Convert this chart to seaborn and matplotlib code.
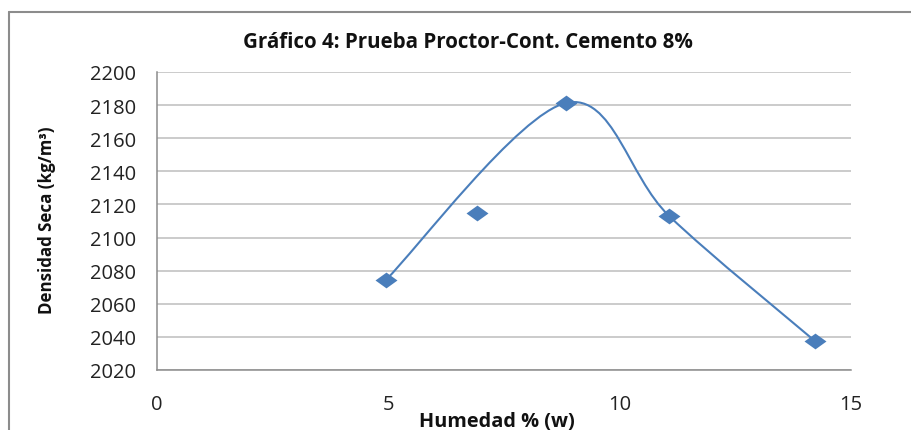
import numpy as np
import pandas as pd
import matplotlib
matplotlib.use("Agg")
import matplotlib.pyplot as plt
from matplotlib.path import Path
from matplotlib.patches import PathPatch
from matplotlib.lines import Line2D
import seaborn as sns

# ------------------------- Data -------------------------
humedad = [4.95, 6.92, 8.84, 11.07, 14.22]
densidad = [2074.5, 2114.8, 2181.3, 2113.0, 2037.5]

# smoothed line series (Excel-style smooth line)
curve_x = [4.95, 8.84, 11.07, 14.22]
curve_y = [2074.5, 2181.3, 2113.0, 2037.5]

x_ticks = [0, 5, 10, 15]
y_ticks = [2020, 2040, 2060, 2080, 2100, 2120, 2140, 2160, 2180, 2200]

title = "Gráfico 4: Prueba Proctor-Cont. Cemento 8%"
x_label = "Humedad % (w)"
y_label = "Densidad Seca (kg/m³)"

blue = "#4a7ebb"

# ------------------------- Style -------------------------
sns.set_style("white")
plt.rcParams["font.family"] = ["Open Sans", "DejaVu Sans"]

W, H = 912, 431
fig = plt.figure(figsize=(W / 100, H / 100), dpi=100)
ax = fig.add_axes([157 / W, 1 - 371 / H, (851 - 157) / W, (371 - 73) / H])

# outer chart frame (left + top visible)
fig.add_artist(Line2D([9 / W, 9 / W], [0, 1 - 13 / H], color="#8c8c8c", lw=1.5,
                      transform=fig.transFigure))
fig.add_artist(Line2D([9 / W, 1], [1 - 13 / H, 1 - 13 / H], color="#8c8c8c", lw=1.5,
                      transform=fig.transFigure))

# ------------------------- Smooth line -------------------------
pts = np.column_stack([curve_x, curve_y])
n = len(pts)
verts = [tuple(pts[0])]
codes = [Path.MOVETO]
for i in range(n - 1):
    p0 = pts[i - 1] if i > 0 else pts[i]
    p1 = pts[i]
    p2 = pts[i + 1]
    p3 = pts[i + 2] if i + 2 < n else pts[i + 1]
    c1 = p1 + (p2 - p0) / 6.0
    c2 = p2 - (p3 - p1) / 6.0
    verts += [tuple(c1), tuple(c2), tuple(p2)]
    codes += [Path.CURVE4] * 3
ax.add_patch(PathPatch(Path(verts, codes), facecolor="none", edgecolor=blue,
                       lw=1.5, zorder=3))

# ------------------------- Markers -------------------------
df = pd.DataFrame({"humedad": humedad, "densidad": densidad})
diamond = [(-1, 0), (0, 0.72), (1, 0), (0, -0.72), (-1, 0)]
sns.scatterplot(data=df, x="humedad", y="densidad", ax=ax, marker=diamond,
                s=250, color=blue, edgecolor=blue, linewidth=0, zorder=4)

# ------------------------- Axes -------------------------
ax.set_xlim(0, 15)
ax.set_ylim(2020, 2200)
ax.set_xticks(x_ticks)
ax.set_yticks(y_ticks)
ax.grid(axis="y", color="#bdbdbd", lw=1.1)
ax.grid(axis="x", visible=False)
ax.set_axisbelow(True)
for s in ["top", "right"]:
    ax.spines[s].set_visible(False)
for s in ["left", "bottom"]:
    ax.spines[s].set_color("#8c8c8c")
    ax.spines[s].set_linewidth(1.1)
ax.tick_params(axis="both", which="major", direction="out", length=7, width=1.1,
               color="#8c8c8c", labelsize=14.5, labelcolor="#222222")
ax.tick_params(axis="x", pad=10)
ax.tick_params(axis="y", pad=7, length=8)

ax.set_xlabel("")
ax.set_ylabel("")
fig.text(497 / W, 1 - 422 / H, x_label, ha="center", va="center",
         fontsize=14.3, fontweight="bold", color="#111111")
fig.text(47 / W, 1 - 220 / H, y_label, ha="center", va="center", rotation=90,
         fontsize=12.2, fontweight="bold", color="#111111")
fig.text(468 / W, 1 - 42 / H, title, ha="center", va="center",
         fontsize=14.8, fontweight="bold", color="#111111")

fig.savefig("out.png", dpi=100)
